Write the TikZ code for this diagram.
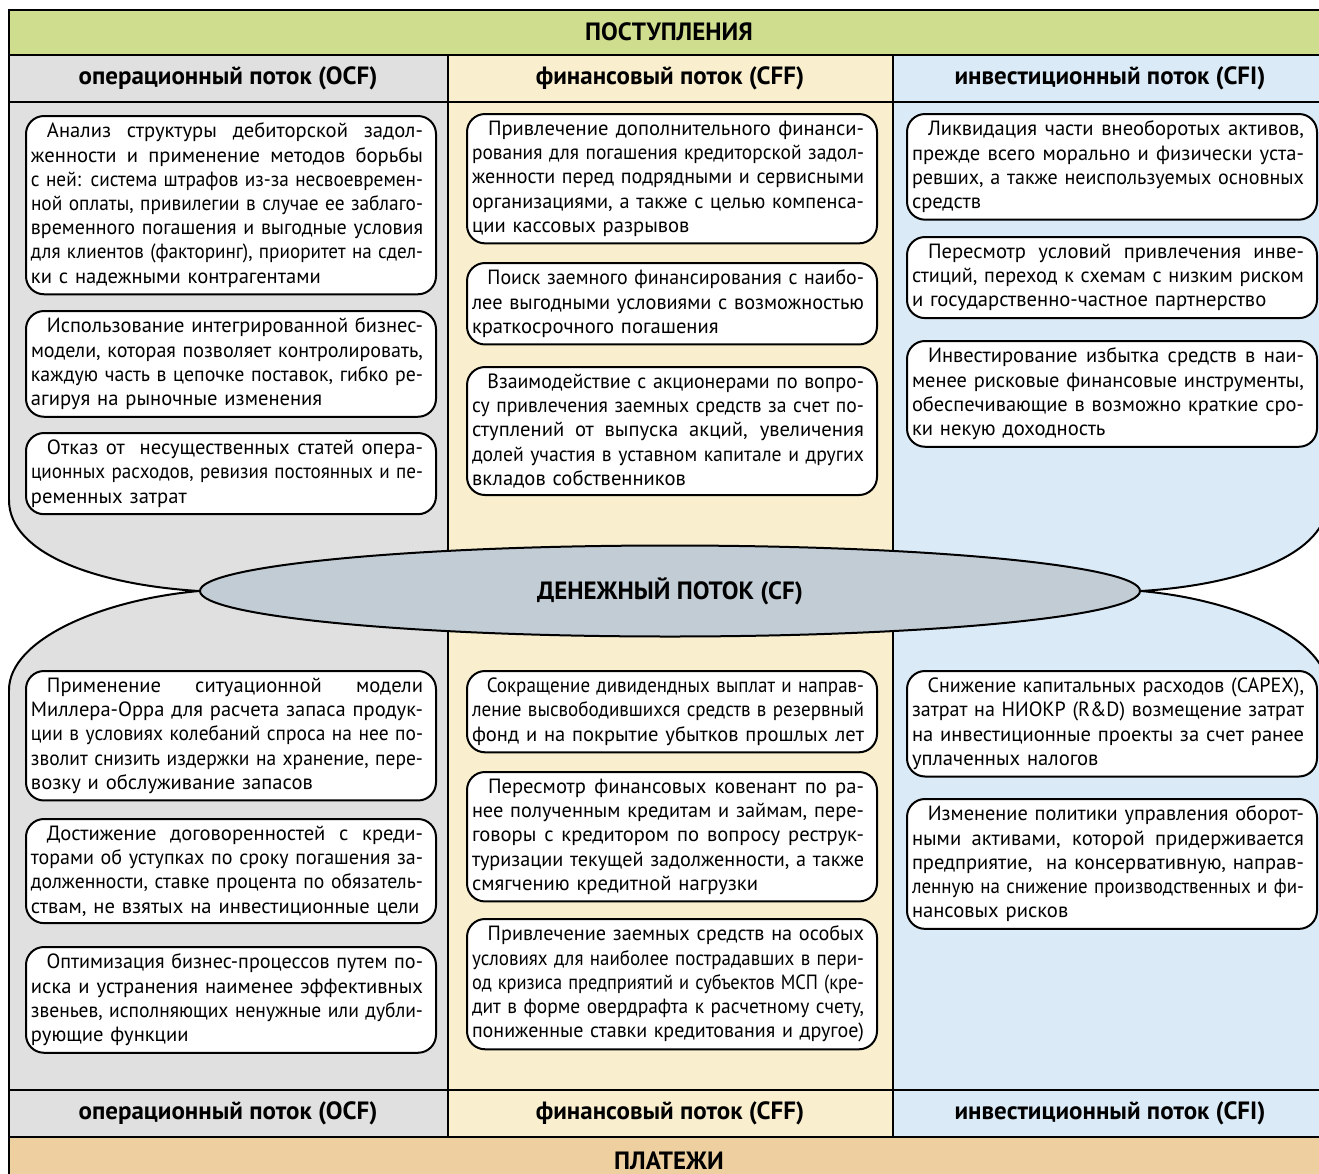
\documentclass[tikz,border=0pt]{standalone}
\usepackage{fontspec}
\setmainfont{PT Sans}
\usetikzlibrary{shapes.geometric}
\setlength\parindent{0pt}
\definecolor{inflow}{HTML}{CEDD8E}
\definecolor{opcol}{HTML}{E0E0E0}
\definecolor{fincol}{HTML}{F9EFCE}
\definecolor{invcol}{HTML}{DAEAF7}
\definecolor{outflow}{HTML}{EECF9F}
\definecolor{cfcol}{HTML}{C2CCD5}
% lines of a box: \jl full width, \el the last one
\newsavebox\lnbox
\newcommand\jl[1]{\leavevmode\sbox\lnbox{#1}%
  \ifdim\wd\lnbox>196pt \resizebox{196pt}{\height}{#1}%
  \else\hbox to 196pt{\spaceskip=\fontdimen2\font plus 1fil\relax #1}\fi\\}
\newcommand\el[1]{\leavevmode\sbox\lnbox{#1}%
  \ifdim\wd\lnbox>196pt \resizebox{196pt}{\height}{#1}\else\usebox\lnbox\fi}
\newcommand\ind{\hspace*{8pt}}

\begin{document}
\begin{tikzpicture}[x=0.5pt, y=-0.5pt, line width=1pt,
    measure/.style={draw, fill=white, rounded corners=9pt, anchor=north west,
      text width=200pt, inner xsep=2.5pt, inner ysep=3.5pt, align=left,
      font=\fontsize{10.3}{12.1}\selectfont},
    head/.style={font=\bfseries\fontsize{12.5}{14}\selectfont}]
  \useasboundingbox (0,0) rectangle (1319,1174);
  \clip (0,0) rectangle (1319,1174);
  % bands and columns
  \fill[inflow] (9,10) rectangle (1328,55);
  \fill[opcol] (9,55) rectangle (448,1137);
  \fill[fincol] (448,55) rectangle (893,1137);
  \fill[invcol] (893,55) rectangle (1328,1137);
  \fill[outflow] (9,1137) rectangle (1328,1190);
  % cut-outs beside the cash flow
  \fill[white] (0,500) -- (9,500) .. controls (9,555) and (100,585) .. (200,591)
    .. controls (100,600) and (9,640) .. (9,690) -- (0,690) -- cycle;
  \fill[white] (1340,500) -- (1328,500) .. controls (1328,555) and (1240,585) .. (1140,591)
    .. controls (1240,600) and (1328,640) .. (1328,690) -- (1340,690) -- cycle;
  % grid
  \draw (9,500) -- (9,10) -- (1328,10) -- (1328,500);
  \draw (9,690) -- (9,1190);
  \draw (1328,690) -- (1328,1190);
  \foreach \y in {55,102,1090,1137}
    \draw (9,\y) -- (1328,\y);
  \foreach \x in {448,893}
    \draw (\x,55) -- (\x,1137);
  % titles
  \node[head] (inhdr) at (669,32) {ПОСТУПЛЕНИЯ};
  \node[head] (outhdr) at (669,1161) {ПЛАТЕЖИ};
  \node[head] (ocftop) at (228,78) {операционный поток (OCF)};
  \node[head] (cfftop) at (670,78) {финансовый поток (CFF)};
  \node[head] (cfitop) at (1110,78) {инвестиционный поток (CFI)};
  \node[head] (ocfbot) at (228,1113) {операционный поток (OCF)};
  \node[head] (cffbot) at (670,1113) {финансовый поток (CFF)};
  \node[head] (cfibot) at (1110,1113) {инвестиционный поток (CFI)};
  % cash flow
  \node[ellipse, draw, fill=cfcol, minimum width=470pt, minimum height=45.5pt,
    inner sep=0pt, head] (cf) at (670,591) {ДЕНЕЖНЫЙ ПОТОК (CF)};
  \draw (9,500) .. controls (9,555) and (100,585) .. (cf.west)
    .. controls (100,600) and (9,640) .. (9,690);
  \draw (1328,500) .. controls (1328,555) and (1240,585) .. (cf.east)
    .. controls (1240,600) and (1328,640) .. (1328,690);
  % inflows: operating
  \node[measure] (ocf1) at (25,115) {\jl{\ind Анализ структуры дебиторской задол-}
    \jl{женности и применение методов борьбы}
    \jl{с ней: система штрафов из-за несвоевремен-}
    \jl{ной оплаты, привилегии в случае ее заблаго-}
    \jl{временного погашения и выгодные условия}
    \jl{для клиентов (факторинг), приоритет на сдел-}
    \el{ки с надежными контрагентами}};
  \node[measure] (ocf2) at (25,310) {\jl{\ind Использование интегрированной бизнес-}
    \jl{модели, которая позволяет контролировать,}
    \jl{каждую часть в цепочке поставок, гибко ре-}
    \el{агируя на рыночные изменения}};
  \node[measure] (ocf3) at (25,432) {\jl{\ind Отказ от \ несущественных статей опера-}
    \jl{ционных расходов, ревизия постоянных и пе-}
    \el{ременных затрат}};
  % inflows: financing
  \node[measure] (cff1) at (466,113) {\jl{\ind Привлечение дополнительного финанси-}
    \jl{рования для погашения кредиторской задол-}
    \jl{женности перед подрядными и сервисными}
    \jl{организациями, а также с целью компенса-}
    \el{ции кассовых разрывов}};
  \node[measure] (cff2) at (466,262) {\jl{\ind Поиск заемного финансирования с наибо-}
    \jl{лее выгодными условиями с возможностью}
    \el{краткосрочного погашения}};
  \node[measure] (cff3) at (466,366) {\jl{\ind Взаимодействие с акционерами по вопро-}
    \jl{су привлечения заемных средств за счет по-}
    \jl{ступлений от выпуска акций, увеличения}
    \jl{долей участия в уставном капитале и других}
    \el{вкладов собственников}};
  % inflows: investing
  \node[measure] (cfi1) at (906,113) {\jl{\ind Ликвидация части внеоборотых активов,}
    \jl{прежде всего морально и физически уста-}
    \jl{ревших, а также неиспользуемых основных}
    \el{средств}};
  \node[measure] (cfi2) at (906,236) {\jl{\ind Пересмотр условий привлечения инве-}
    \jl{стиций, переход к схемам с низким риском}
    \el{и государственно-частное партнерство}};
  \node[measure] (cfi3) at (906,340) {\jl{\ind Инвестирование избытка средств в наи-}
    \jl{менее рисковые финансовые инструменты,}
    \jl{обеспечивающие в возможно краткие сро-}
    \el{ки некую доходность}};
  % outflows: operating
  \node[measure] (ocf4) at (25,670) {\jl{\ind Применение ситуационной модели}
    \jl{Миллера-Орра для расчета запаса продук-}
    \jl{ции в условиях колебаний спроса на нее по-}
    \jl{зволит снизить издержки на хранение, пере-}
    \el{возку и обслуживание запасов}};
  \node[measure] (ocf5) at (25,818) {\jl{\ind Достижение договоренностей с креди-}
    \jl{торами об уступках по сроку погашения за-}
    \jl{долженности, ставке процента по обязатель-}
    \el{ствам, не взятых на инвестиционные цели}};
  \node[measure] (ocf6) at (25,946) {\jl{\ind Оптимизация бизнес-процессов путем по-}
    \jl{иска и устранения наименее эффективных}
    \jl{звеньев, исполняющих ненужные или дубли-}
    \el{рующие функции}};
  % outflows: financing
  \node[measure] (cff4) at (466,670) {\jl{\ind Сокращение дивидендных выплат и направ-}
    \jl{ление высвободившихся средств в резервный}
    \el{фонд и на покрытие убытков прошлых лет}};
  \node[measure] (cff5) at (466,771) {\jl{\ind Пересмотр финансовых ковенант по ра-}
    \jl{нее полученным кредитам и займам, пере-}
    \jl{говоры с кредитором по вопросу реструк-}
    \jl{туризации текущей задолженности, а также}
    \el{смягчению кредитной нагрузки}};
  \node[measure] (cff6) at (466,918) {\jl{\ind Привлечение заемных средств на особых}
    \jl{условиях для наиболее пострадавших в пери-}
    \jl{од кризиса предприятий и субъектов МСП (кре-}
    \jl{дит в форме овердрафта к расчетному счету,}
    \el{пониженные ставки кредитования и другое)}};
  % outflows: investing
  \node[measure] (cfi4) at (906,670) {\jl{\ind Снижение капитальных расходов (CAPEX),}
    \jl{затрат на НИОКР (R\&D) возмещение затрат}
    \jl{на инвестиционные проекты за счет ранее}
    \el{уплаченных налогов}};
  \node[measure] (cfi5) at (906,798) {\jl{\ind Изменение политики управления оборот-}
    \jl{ными активами, которой придерживается}
    \jl{предприятие, \ на консервативную, направ-}
    \jl{ленную на снижение производственных и фи-}
    \el{нансовых рисков}};
\end{tikzpicture}
\end{document}
